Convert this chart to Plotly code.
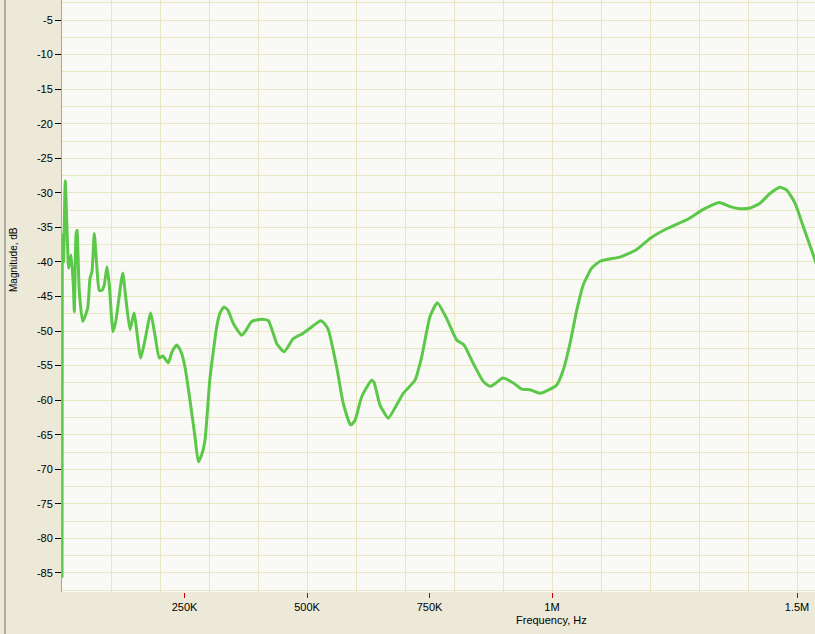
import plotly.graph_objects as go

# Frequency (kHz) and magnitude (dB)
freq_khz = [0, 0.6, 3.1, 6.7, 13.7, 18.4, 23.1, 25.1, 28.6, 30.6, 35.3, 42.2, 52.4, 57.1, 61.2,
            65.9, 70.8, 76.1, 81.6, 86.3, 91.8, 96.5, 104.1, 110.2, 123.9, 130.6, 138.8, 146.9,
            160.6, 169.4, 181.0, 189.8, 198.6, 205.5, 216.9, 224.5, 234.1, 242.9, 251.0, 261.2,
            271.4, 278.2, 285.1, 291.8, 302.0, 315.7, 322.4, 330.6, 338.8, 349.6, 366.7, 375.5,
            387.1, 407.5, 421.0, 428.6, 438.2, 453.1, 472.0, 492.4, 509.6, 527.9, 536.7, 543.5,
            560.6, 574.1, 589.2, 598.0, 611.6, 632.0, 636.7, 649.0, 665.9, 679.6, 696.5, 720.4,
            734.1, 751.0, 765.9, 785.1, 805.5, 820.4, 839.4, 859.8, 873.5, 885.7, 899.4, 921.0,
            938.2, 955.1, 975.5, 996.3, 1009.6, 1023.1, 1036.7, 1050.4, 1063.9, 1081.0, 1098.0,
            1114.9, 1138.8, 1172.9, 1200.0, 1234.1, 1274.9, 1308.8, 1341.4, 1363.3, 1383.7,
            1404.1, 1424.5, 1444.9, 1465.3, 1479.0, 1495.9, 1512.9, 1536.7, 1545.0]
magnitude_db = [-85.7, -36.1, -40.0, -28.3, -40.9, -39.0, -43.3, -47.2, -36.1, -35.4, -44.3, -48.6,
                -46.7, -42.4, -41.4, -35.9, -40.4, -44.1, -44.1, -43.3, -40.7, -43.3, -50.1, -48.4,
                -41.6, -45.5, -49.8, -47.4, -53.9, -51.3, -47.4, -50.6, -53.9, -53.6, -54.6, -53.0,
                -52.0, -53.0, -55.2, -60.0, -65.3, -68.9, -67.9, -65.8, -56.8, -49.4, -47.4, -46.5,
                -47.0, -48.9, -50.6, -49.9, -48.6, -48.3, -48.5, -49.8, -51.8, -53.0, -51.1, -50.3,
                -49.4, -48.5, -49.0, -49.8, -55.2, -60.5, -63.6, -62.9, -59.5, -57.1, -57.4, -60.7,
                -62.6, -61.1, -59.0, -57.1, -53.7, -47.9, -45.9, -48.2, -51.3, -52.0, -54.7, -57.3,
                -58.0, -57.5, -56.8, -57.5, -58.4, -58.5, -59.0, -58.4, -57.8, -55.6, -51.8, -47.0,
                -43.3, -40.9, -39.9, -39.6, -39.3, -38.2, -36.6, -35.2, -33.9, -32.4, -31.4, -32.0,
                -32.3, -32.2, -31.5, -30.1, -29.2, -29.6, -31.5, -34.9, -39.7, -41.5]

x_tick_vals = [250000, 500000, 750000, 1000000, 1500000]
x_tick_text = ["250K", "500K", "750K", "1M", "1.5M"]
y_tick_vals = [-5, -10, -15, -20, -25, -30, -35, -40, -45, -50, -55, -60, -65, -70, -75, -80, -85]
y_tick_text = ["-5", "-10", "-15", "-20", "-25", "-30", "-35", "-40", "-45", "-50", "-55", "-60",
               "-65", "-70", "-75", "-80", "-85"]

freq_hz = [f * 1000 for f in freq_khz]

GRID = "#EAE6C2"
FONT = dict(family="Liberation Sans, Arial, sans-serif", size=11, color="#000000")

fig = go.Figure()
fig.add_trace(go.Scatter(
    x=freq_hz, y=magnitude_db, mode="lines",
    line=dict(color="#5CC84A", width=3, shape="spline", smoothing=0.5),
    hoverinfo="skip", showlegend=False,
))

fig.update_layout(
    width=815, height=634,
    margin=dict(l=62, r=0, t=0, b=42, autoexpand=False),
    paper_bgcolor="#ECE9D8",
    plot_bgcolor="#F9F9F6",
    font=FONT,
    showlegend=False,
    xaxis=dict(
        range=[0, 1536700], automargin=False,
        tickvals=x_tick_vals, ticktext=x_tick_text,
        ticks="outside", ticklen=5, tickwidth=1, tickcolor="#C00000",
        showgrid=False, zeroline=False, showline=False,
        minor=dict(dtick=100000, tick0=0, showgrid=True, gridcolor=GRID, gridwidth=1, ticks=""),
        tickfont=FONT,
    ),
    yaxis=dict(
        range=[-87.75, -2.1], automargin=False,
        tickvals=y_tick_vals, ticktext=y_tick_text,
        ticks="outside", ticklen=6, tickwidth=1, tickcolor="#000000",
        showgrid=True, gridcolor=GRID, gridwidth=1, zeroline=False,
        showline=True, linecolor="#A8A890", linewidth=1,
        minor=dict(dtick=2.5, tick0=0, showgrid=True, gridcolor=GRID, gridwidth=1, ticks=""),
        tickfont=FONT,
    ),
    annotations=[
        dict(text="Frequency, Hz", xref="paper", yref="paper",
             x=(551 - 62) / 753, y=-(620 - 592) / 592, xanchor="center", yanchor="middle",
             showarrow=False, font=FONT),
        dict(text="Magnitude, dB", xref="paper", yref="paper",
             x=(13 - 62) / 753, y=(592 - 260) / 592, xanchor="center", yanchor="middle",
             textangle=-90, showarrow=False, font=dict(family=FONT["family"], size=10, color="#000000")),
    ],
    shapes=[
        dict(type="line", xref="paper", yref="paper",
             x0=(5 - 62) / 753, x1=(5 - 62) / 753, y0=-(634 - 592) / 592, y1=1,
             line=dict(color="#9A9A9A", width=1.5)),
    ],
)

fig.write_html(
    "out.html",
    config={"displayModeBar": False, "staticPlot": True},
    post_script="document.body.style.margin='0';document.body.style.overflow='hidden';",
)
